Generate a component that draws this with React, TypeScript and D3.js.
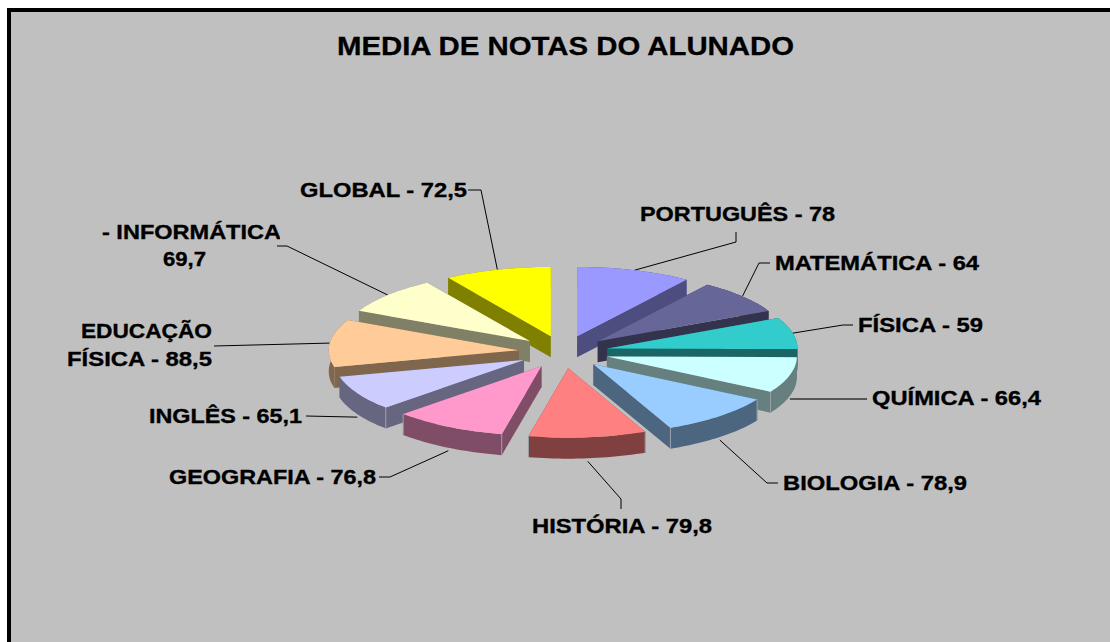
import React from "react";
import * as d3 from "d3";

const categories = ["PORTUGUÊS", "MATEMÁTICA", "FÍSICA", "QUÍMICA", "BIOLOGIA", "HISTÓRIA", "GEOGRAFIA", "INGLÊS", "EDUCAÇÃO FÍSICA", "INFORMÁTICA", "GLOBAL"];
const values = [78, 64, 59, 66.4, 78.9, 79.8, 76.8, 65.1, 88.5, 69.7, 72.5];
const valueLabels = ["78", "64", "59", "66,4", "78,9", "79,8", "76,8", "65,1", "88,5", "69,7", "72,5"];
const colors = ["#9999FF", "#666699", "#33CCCC", "#CCFFFF", "#99CCFF", "#FF8080", "#FF99CC", "#CCCCFF", "#FFCC99", "#FFFFCC", "#FFFF00"];
const title = "MEDIA DE NOTAS DO ALUNADO";

// Layout (label lines: [text, x, baseline, width])
type Line = [string, number, number, number];
const labelLines: Line[][] = categories.map((c, i) => {
  const t = `${c} - ${valueLabels[i]}`;
  switch (i) {
    case 0: return [[t, 640, 221, 195]];
    case 1: return [[t, 775, 270, 204]];
    case 2: return [[t, 858, 332, 125]];
    case 3: return [[t, 872, 405, 169]];
    case 4: return [[t, 783, 490, 184]];
    case 5: return [[t, 532, 533, 180]];
    case 6: return [[t, 169, 484, 207]];
    case 7: return [[t, 149, 423, 153]];
    case 8: return [["EDUCAÇÃO", 81, 338, 131], ["FÍSICA - 88,5", 67, 366, 145]];
    case 9: return [["- INFORMÁTICA", 102, 239, 179], ["69,7", 163, 266, 43]];
    default: return [[t, 300, 197, 167]];
  }
});
const leaderElbows: [number, number][][] = [
  [[736, 242], [736, 232]],
  [[759, 263], [770, 263]],
  [[843, 325], [853, 325]],
  [[867, 399]],
  [[767, 483], [778, 483]],
  [[621, 499], [621, 509]],
  [[390, 477], [379, 477]],
  [[306, 416]],
  [[214, 346]],
  [[287, 246], [277, 246]],
  [[481, 190], [468, 190]],
];

const W = 1110, H = 642;
const cx = 563.5, cy = 352, R = 190, explode = 45, tilt = 0.365, depth = 21, anchorDrop = 3;

const project = (X: number, Y: number): [number, number] => [cx + X, cy + tilt * Y];
const polar = (a: number, r: number): [number, number] => [r * Math.sin(a), -r * Math.cos(a)];

const half = (c: string) => {
  const q = d3.rgb(c);
  return d3.rgb(q.r * 0.5, q.g * 0.5, q.b * 0.5).formatHex();
};

const pieGen = d3.pie<number>().sort(null).startAngle(0).endAngle(2 * Math.PI);
const arcs = pieGen(values);
const line = d3.line();

const slices = arcs.map((a, i) => {
  const mid = (a.startAngle + a.endAngle) / 2;
  const [ox, oy] = polar(mid, explode);
  const pt = (ang: number, r: number) => {
    const [x, y] = polar(ang, r);
    return project(ox + x, oy + y);
  };
  const n = 24;
  const angles = d3.range(n + 1).map((k) => a.startAngle + ((a.endAngle - a.startAngle) * k) / n);
  const rim = angles.map((t) => pt(t, R));
  const apex = pt(0, 0);
  const down = (p: [number, number]): [number, number] => [p[0], p[1] + depth];
  const rimSide = [...rim, ...rim.map(down).reverse()] as [number, number][];
  const startSide = [apex, rim[0], down(rim[0]), down(apex)] as [number, number][];
  const endSide = [apex, rim[n], down(rim[n]), down(apex)] as [number, number][];
  const top = [apex, ...rim] as [number, number][];
  const anchorTop = pt(mid, R);
  const anchor: [number, number] = Math.cos(mid) < 0 ? [anchorTop[0], anchorTop[1] + depth + anchorDrop] : anchorTop;
  const corners = [rim[0], rim[n]].filter((p) => p[1] > apex[1] + 25);
  return { i, mid, color: colors[i], side: half(colors[i]), rimSide, startSide, endSide, top, anchor, corners, down };
});

const order = [...slices].sort((p, q) => Math.cos(q.mid) - Math.cos(p.mid));
const font = "'Liberation Sans', Arial, sans-serif";

export default function App() {
  return (
    <svg width={W} height={H} style={{ position: "absolute", left: 0, top: 0, background: "#fff" }}>
      <defs>
        <clipPath id="clipInfo"><rect x={90} y={215} width={190} height={30} /></clipPath>
      </defs>
      <rect x={9} y={10} width={W + 10} height={H + 10} fill="#C0C0C0" stroke="#000" strokeWidth={4} />
      <text x={337} y={55} fontFamily={font} fontWeight="bold" fontSize={26} fill="#000" stroke="#000" strokeWidth={0.3} textLength={457} lengthAdjust="spacingAndGlyphs">{title}</text>
      {slices.map((s) => (
        <path key={s.i} d={line([s.anchor, ...leaderElbows[s.i]]) || ""} fill="none" stroke={s.i === 3 ? "#333" : "#000"} strokeWidth={s.i === 3 ? 1.6 : 1} />
      ))}
      {order.map((s) => (
        <g key={s.i}>
          <path d={(line(s.startSide) || "") + "Z"} fill={s.side} />
          <path d={(line(s.endSide) || "") + "Z"} fill={s.side} />
          <path d={(line(s.rimSide) || "") + "Z"} fill={s.side} />
          {s.corners.map((p, k) => (
            <path key={k} d={line([p, s.down(p)]) || ""} stroke="#9aa0a8" strokeWidth={1} fill="none" />
          ))}
          <path d={(line(s.top) || "") + "Z"} fill={s.color} />
        </g>
      ))}
      {labelLines.map((lines, i) =>
        lines.map((l, j) => (
          <text key={`${i}-${j}`} x={l[1]} y={l[2]} fontFamily={font} fontWeight="bold" fontSize={20} fill="#000" stroke="#000" strokeWidth={0.35}
            textLength={l[3]} lengthAdjust="spacingAndGlyphs" clipPath={i === 9 && j === 0 ? "url(#clipInfo)" : undefined}>{l[0]}</text>
        ))
      )}
    </svg>
  );
}
